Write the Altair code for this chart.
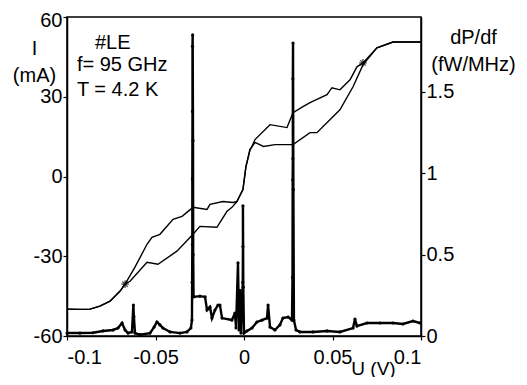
import altair as alt
import pandas as pd

# ---- I-V curves (left axis, mA) ----
upper_u = [-0.1, -0.093, -0.087, -0.0814, -0.0757, -0.070, -0.0672,
           -0.0616, -0.0548, -0.052, -0.0475, -0.0401, -0.035, -0.0288, -0.0209, -0.0192,
           -0.0119, -0.0062, -0.004,
           -0.0006, 0.0011, 0.0034, 0.0045,
           0.0062, 0.0147, 0.0243, 0.0277, 0.0333, 0.0373, 0.0469, 0.0497, 0.0542, 0.0599,
           0.0638, 0.0672, 0.0751, 0.0842, 0.1]
upper_i = [-49.9, -50.0, -49.9, -48.75, -46.9, -43.1, -40.5,
           -34.1, -25.5, -22.9, -21.75, -16.1, -15.0, -11.6, -12.4, -10.5,
           -9.4, -9.75, -9.4,
           -4.9, 3.75, 10.1, 11.25,
           13.9, 19.5, 18.4, 24.0, 26.25, 27.75, 30.75, 33.4, 32.6, 36.4,
           41.25, 42.75, 48.4, 50.6, 50.6]

lower_u = [-0.1, -0.093, -0.087, -0.0814, -0.0757, -0.070, -0.0672,
           -0.0644, -0.0548, -0.0486, -0.0379, -0.0288, -0.0249, -0.0153, -0.0096, -0.0068,
           -0.004,
           -0.0006, 0.0011, 0.0034, 0.0045,
           0.0062, 0.011, 0.0175, 0.0277, 0.0373, 0.0412, 0.0542, 0.0616, 0.0672,
           0.0751, 0.0842, 0.1]
lower_i = [-49.9, -50.0, -49.9, -48.75, -46.9, -43.1, -40.5,
           -39.4, -32.25, -33.0, -28.1, -21.75, -18.75, -19.1, -13.1, -11.6,
           -9.4,
           -4.9, 3.75, 10.1, 11.25,
           12.8, 11.3, 12.0, 12.0, 16.5, 16.5, 25.1, 33.75, 42.0,
           48.4, 50.6, 50.6]

star_u = [-0.0672, 0.0672]
star_i = [-40.5, 42.75]

# ---- dP/df spectrum (right axis, fW/MHz) ----
p_u = [-0.1, -0.0927, -0.0853, -0.0797, -0.074, -0.0712, -0.0689, -0.0672, -0.0655, -0.0633,
       -0.0625, -0.0622, -0.0616, -0.0588, -0.0531, -0.0508, -0.0492, -0.0475, -0.0458, -0.0418,
       -0.0362, -0.0322, -0.030, -0.0294, -0.0293, -0.0292, -0.0292, -0.0291, -0.0291, -0.0290,
       -0.0288, -0.0287, -0.0285, -0.0249, -0.022, -0.0209, -0.0192, -0.0181, -0.0164, -0.0147,
       -0.0136, -0.0124, -0.0068, -0.0051, -0.0045, -0.0034, -0.0028, -0.0023, -0.0017, -0.0007,
       -0.0006, -0.0006, -0.0004, 0.0, 0.0017, 0.0045, 0.0073, 0.0102, 0.013, 0.0136,
       0.0147, 0.0175, 0.0203, 0.022, 0.0249, 0.0271, 0.0274, 0.0275, 0.0276, 0.0276,
       0.0277, 0.0279, 0.0282, 0.0294, 0.0316, 0.039, 0.0469, 0.0542, 0.0616, 0.0627,
       0.0638, 0.0695, 0.0768, 0.0842, 0.0898, 0.0955, 0.0994]
p_val = [0.018, 0.018, 0.02, 0.031, 0.037, 0.049, 0.08, 0.037, 0.018, 0.025,
         0.19, 0.12, 0.018, 0.008, 0.018, 0.055, 0.086, 0.068, 0.049, 0.025,
         0.018, 0.025, 0.049, 0.098, 0.33, 0.56, 0.965, 1.38, 1.78, 1.85,
         1.2, 0.5, 0.24, 0.245, 0.24, 0.16, 0.178, 0.11, 0.16, 0.19,
         0.19, 0.11, 0.098, 0.141, 0.049, 0.45, 0.037, 0.28, 0.018, 0.33,
         0.55, 0.80, 0.3, 0.018, 0.031, 0.049, 0.086, 0.098, 0.11, 0.19,
         0.055, 0.037, 0.068, 0.11, 0.117, 0.098, 0.36, 0.96, 1.09, 1.58,
         1.80, 0.9, 0.098, 0.037, 0.025, 0.025, 0.031, 0.025, 0.049, 0.104,
         0.061, 0.08, 0.08, 0.08, 0.074, 0.092, 0.08]

ann_text = ["#LE", "f= 95 GHz", "T = 4.2 K"]
ann_u = [-0.0842, -0.0944, -0.0944]
ann_i = [50.25, 42.0, 32.6]

# ---- tables ----
iv = pd.DataFrame({
    "U": upper_u + lower_u,
    "I": upper_i + lower_i,
    "branch": ["upper"] * len(upper_u) + ["lower"] * len(lower_u),
    "k": list(range(len(upper_u))) + list(range(len(lower_u))),
})
stars = pd.DataFrame({"U": star_u, "I": star_i})
ann = pd.DataFrame({"U": ann_u, "I": ann_i, "label": ann_text})
spec = pd.DataFrame({"U": p_u, "P": p_val, "k": list(range(len(p_u)))})

FONT = "Liberation Sans"

x_enc = alt.X("U:Q",
              scale=alt.Scale(domain=[-0.1, 0.1], nice=False, zero=False),
              axis=alt.Axis(values=[-0.1, -0.05, 0, 0.05, 0.1],
                            labelExpr="'' + datum.value",
                            title="U (V)", titleX=306, titleY=38, titleFontSize=19,
                            titleBaseline="alphabetic", titleAlign="center",
                            tickSize=4, labelPadding=7, grid=False))

y_left = alt.Y("I:Q",
               scale=alt.Scale(domain=[-60, 60], nice=False, zero=False),
               axis=alt.Axis(orient="left", values=[-60, -30, 0, 30, 60],
                             labelExpr="'' + datum.value",
                             labelOffset={"condition": {"test": "datum.value == 60", "value": 3},
                                          "value": 0},
                             title=["I", "(mA)"], titleAngle=0, titleX=-33, titleY=21,
                             titleBaseline="top", titleAlign="center", titleLineHeight=27,
                             tickSize=4, labelPadding=1, grid=False))

y_right = alt.Y("P:Q",
                scale=alt.Scale(domain=[0, 1.96], nice=False, zero=False),
                axis=alt.Axis(orient="right", values=[0, 0.5, 1, 1.5],
                              labelExpr="'' + datum.value",
                              title=["dP/df", "(fW/MHz)"], titleAngle=0, titleX=52, titleY=10,
                              titleBaseline="top", titleAlign="center", titleLineHeight=27,
                              tickSize=4, labelPadding=1, grid=False))

iv_lines = alt.Chart(iv).mark_line(color="black", strokeWidth=1.4).encode(
    x=x_enc, y=y_left, detail="branch:N", order="k:Q")

star_path = "M0,-1L0,1M-1,0L1,0M-0.7,-0.7L0.7,0.7M-0.7,0.7L0.7,-0.7"
star_marks = alt.Chart(stars).mark_point(shape=star_path, filled=False, color="black",
                                         size=60, strokeWidth=1.3).encode(x=x_enc, y=y_left)

texts = alt.Chart(ann).mark_text(align="left", baseline="middle", fontSize=20, font=FONT,
                                 color="black").encode(x=x_enc, y=y_left, text="label:N")

left = alt.layer(iv_lines, star_marks, texts)

spec_line = alt.Chart(spec).mark_line(color="black", strokeWidth=2.4).encode(
    x=x_enc, y=y_right, order="k:Q")
spec_pts = alt.Chart(spec).mark_circle(color="black", size=10, opacity=1).encode(
    x=x_enc, y=y_right)
right = alt.layer(spec_line, spec_pts)

chart = alt.layer(left, right).resolve_scale(y="independent").properties(
    width=354, height=319,
    autosize=alt.AutoSizeParams(type="none"),
    padding={"left": 59, "top": 9, "right": 98, "bottom": 41},
    background="white",
).configure_view(
    stroke="black", strokeWidth=1.5
).configure_axis(
    domainColor="black", domainWidth=1.5, tickColor="black", tickWidth=1.2,
    labelColor="black", titleColor="black", labelFont=FONT, titleFont=FONT,
    labelFontSize=20, titleFontSize=20, titleFontWeight="normal"
)

chart.save("out.html", embed_options={"renderer": "svg", "actions": False})
